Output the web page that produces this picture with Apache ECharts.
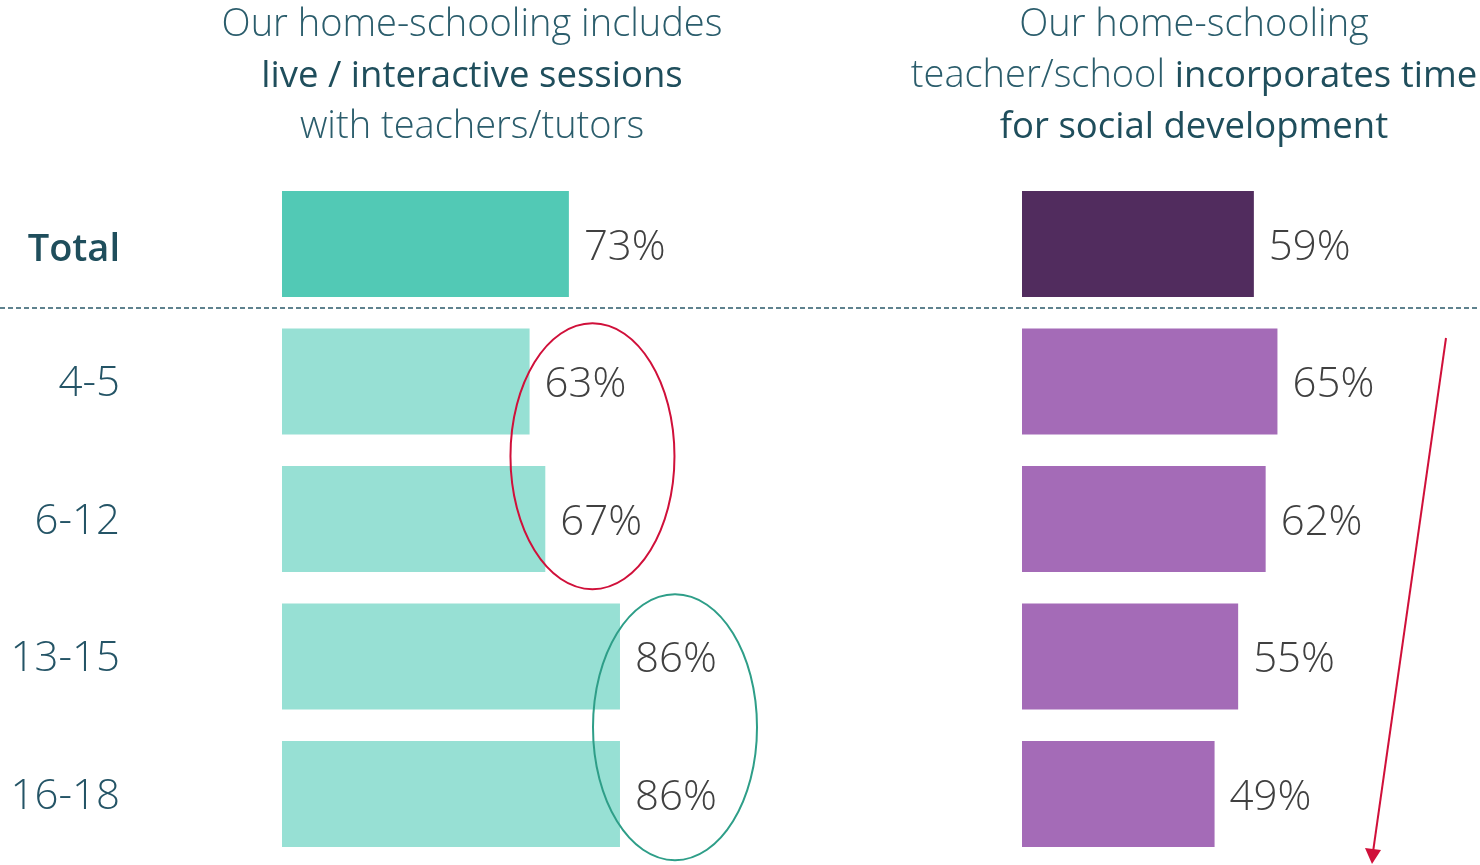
<!DOCTYPE html>
<html>
<head>
<meta charset="utf-8">
<script src="https://cdn.jsdelivr.net/npm/echarts@6/dist/echarts.min.js"></script>
<style>
  html, body { margin: 0; padding: 0; background: #fff; }
  #main { width: 1480px; height: 865px; }
</style>
</head>
<body>
<div id="main"></div>
<script>
(function () {
    // 数据
    var groups = ['Total', '4-5', '6-12', '13-15', '16-18'];
    var liveSessions = [73, 63, 67, 86, 86];
    var socialDev = [59, 65, 62, 55, 49];

    var FONT = '"Open Sans", "Noto Sans", sans-serif';
    var TEAL_DARK = '#52c9b5', TEAL_LIGHT = '#97e0d4';
    var PURPLE_DARK = '#512c5e', PURPLE_LIGHT = '#a46bb7';

    function colored(values, first, rest) {
        return values.map(function (v, i) {
            return { value: v, itemStyle: { color: i === 0 ? first : rest } };
        });
    }

    var myChart = echarts.init(document.getElementById('main'));

    var valueLabel = {
        show: true,
        position: 'right',
        distance: 15,
        offset: [0, 4],
        formatter: '{c}%',
        fontFamily: FONT,
        fontSize: 42,
        fontWeight: 300,
        color: '#404040'
    };

    var option = {
        animation: false,
        grid: [
            { left: 282, top: 175.25, width: 393, height: 687.5 },
            { left: 1022, top: 175.25, width: 393, height: 687.5 }
        ],
        xAxis: [
            { gridIndex: 0, type: 'value', min: 0, max: 100, show: false },
            { gridIndex: 1, type: 'value', min: 0, max: 100, show: false }
        ],
        yAxis: [
            {
                gridIndex: 0, type: 'category', data: groups, inverse: true,
                axisLine: { show: false }, axisTick: { show: false }, splitLine: { show: false },
                axisLabel: {
                    margin: 162,
                    padding: [6, 0, 0, 0],
                    fontFamily: FONT,
                    fontSize: 42,
                    fontWeight: 300,
                    color: '#245466',
                    formatter: function (v) { return v === 'Total' ? '{t|' + v + '}' : v; },
                    rich: { t: { fontFamily: FONT, fontSize: 38, fontWeight: 600, color: '#1f4e5c', padding: [6, 0, 0, 0] } }
                }
            },
            {
                gridIndex: 1, type: 'category', data: groups, inverse: true, show: false
            }
        ],
        series: [
            {
                type: 'bar', xAxisIndex: 0, yAxisIndex: 0, barWidth: 106,
                data: colored(liveSessions, TEAL_DARK, TEAL_LIGHT),
                label: valueLabel
            },
            {
                type: 'bar', xAxisIndex: 1, yAxisIndex: 1, barWidth: 106,
                data: colored(socialDev, PURPLE_DARK, PURPLE_LIGHT),
                label: valueLabel
            }
        ]
    };

    myChart.setOption(option);

    // 注释：标题、虚线、椭圆和箭头
    var titleRich = {
        n: { fontFamily: FONT, fontSize: 38, fontWeight: 300, fill: '#2b5d6c', lineHeight: 51 },
        b: { fontFamily: FONT, fontSize: 36.5, fontWeight: 500, fill: '#1f4e5c', lineHeight: 51 }
    };
    var p45 = myChart.convertToPixel({ gridIndex: 0 }, [79, '4-5']);
    var p612 = myChart.convertToPixel({ gridIndex: 0 }, [79, '6-12']);
    var p1315 = myChart.convertToPixel({ gridIndex: 0 }, [100, '13-15']);
    var p1618 = myChart.convertToPixel({ gridIndex: 0 }, [100, '16-18']);
    var pTot = myChart.convertToPixel({ gridIndex: 0 }, [0, 'Total']);

    myChart.setOption({
        graphic: [
            {
                type: 'text', x: 472, y: 0, z: 100,
                style: {
                    text: '{n|Our home-schooling includes}\n{b|live / interactive sessions}\n{n|with teachers/tutors}',
                    rich: titleRich, align: 'center', verticalAlign: 'top'
                }
            },
            {
                type: 'text', x: 1194, y: 0, z: 100,
                style: {
                    text: '{n|Our home-schooling}\n{n|teacher/school }{b|incorporates time}\n{b|for social development}',
                    rich: titleRich, align: 'center', verticalAlign: 'top'
                }
            },
            {
                type: 'line', z: 100,
                shape: { x1: 0, y1: pTot[1] + 64, x2: 1480, y2: pTot[1] + 64 },
                style: { stroke: '#2a5a6a', lineWidth: 1.3, lineDash: [5, 3] }
            },
            {
                type: 'ellipse', z: 100,
                shape: { cx: p45[0], cy: (p45[1] + p612[1]) / 2 + 6, rx: 82, ry: 133 },
                style: { fill: 'none', stroke: '#d0103a', lineWidth: 2 }
            },
            {
                type: 'ellipse', z: 100,
                shape: { cx: p1315[0], cy: (p1315[1] + p1618[1]) / 2 + 2, rx: 82, ry: 133 },
                style: { fill: 'none', stroke: '#2e9e88', lineWidth: 2 }
            },
            {
                type: 'line', z: 100,
                shape: { x1: 1446, y1: 338, x2: 1373, y2: 852 },
                style: { stroke: '#d0103a', lineWidth: 2 }
            },
            {
                type: 'polygon', z: 100,
                shape: { points: [[1365, 848], [1381, 850], [1372, 864]] },
                style: { fill: '#d0103a' }
            }
        ]
    });
}).call(this);
</script>
</body>
</html>
